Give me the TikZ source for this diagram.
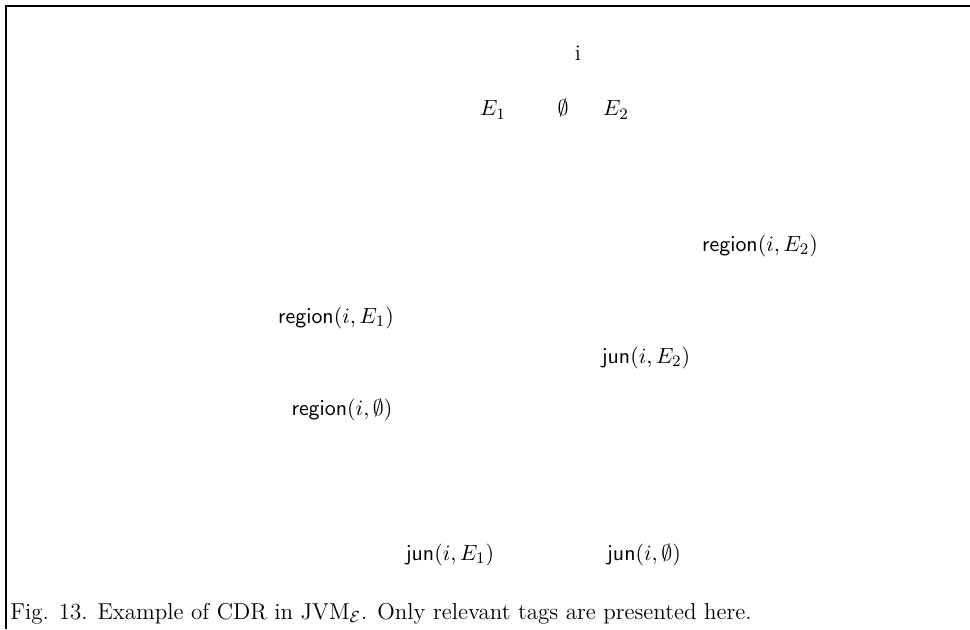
\documentclass[tikz,border=0pt]{standalone}
\usepackage{amsmath}
\begin{document}
\begin{tikzpicture}[x=0.5pt,y=-0.5pt,
  lbl/.style={inner sep=0pt,font=\fontsize{11.2}{13}\selectfont},
  caption/.style={inner sep=0pt,font=\fontsize{11.5}{13}\selectfont},
  frame/.style={line width=1pt}]
\useasboundingbox (0,0) rectangle (970,629);
\coordinate (fb) at (6,629);
\coordinate (ftl) at (6,6);
\coordinate (fr) at (970,6);
\draw[frame] (fb) -- (ftl) -- (fr);
\node[lbl] (i) at (578,53) {i};
\node[lbl] (e1) at (493,110) {$E_1$};
\node[lbl] (emp) at (563,108) {$\emptyset$};
\node[lbl] (e2) at (616,110) {$E_2$};
\node[lbl] (rE2) at (760,246) {$\mathsf{region}(i,E_2)$};
\node[lbl] (rE1) at (336,318) {$\mathsf{region}(i,E_1)$};
\node[lbl] (jE2) at (646,358) {$\mathsf{jun}(i,E_2)$};
\node[lbl] (rEmp) at (342,410) {$\mathsf{region}(i,\emptyset)$};
\node[lbl] (jE1) at (450,555) {$\mathsf{jun}(i,E_1)$};
\node[lbl] (jEmp) at (644,555) {$\mathsf{jun}(i,\emptyset)$};
\node[caption,anchor=base west] (cap) at (10,619) {Fig. 13. Example of CDR in JVM$_{\mathcal{E}}$. Only relevant tags are presented here.};
\end{tikzpicture}
\end{document}
